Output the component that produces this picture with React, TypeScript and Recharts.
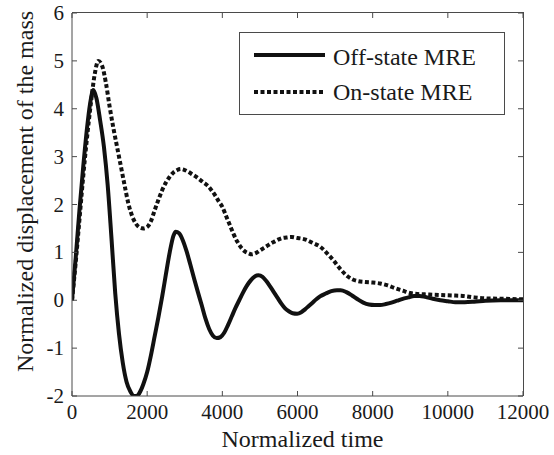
import { Label, Legend, Line, LineChart, XAxis, YAxis } from 'recharts'

const TIME_TICKS = [0, 2000, 4000, 6000, 8000, 10000, 12000]
const VALUE_TICKS = [-2, -1, 0, 1, 2, 3, 4, 5, 6]

// Off-state MRE (solid)
const OFF_TIME = [
  0, 100, 200, 300, 400, 480, 567, 650, 750, 850, 950, 1050, 1150, 1250, 1350, 1450, 1550, 1650, 1720,
  1800, 1900, 2000, 2100, 2200, 2300, 2400, 2500, 2600, 2700, 2760, 2850, 2950, 3050, 3150, 3250, 3350,
  3450, 3550, 3650, 3750, 3850, 3950, 4050, 4150, 4250, 4350, 4450, 4550, 4650, 4750, 4850, 4960, 5070,
  5170, 5270, 5370, 5470, 5570, 5670, 5770, 5870, 5990, 6100, 6200, 6300, 6400, 6500, 6600, 6750, 6900,
  7050, 7150, 7300, 7450, 7600, 7750, 7900, 8050, 8200, 8350, 8500, 8650, 8800, 8950, 9100, 9250, 9400,
  9600, 9800, 10000, 10200, 10450, 10700, 11000, 11400, 12000,
]
const OFF_VALUE = [
  0, 0.9, 1.9, 2.8, 3.6, 4.1, 4.39, 4.22, 3.75, 3.2, 2.4, 1.3, 0.15, -0.7, -1.3, -1.7, -1.9, -2.0, -2.0,
  -1.93, -1.75, -1.5, -1.15, -0.75, -0.35, 0.08, 0.55, 1.0, 1.35, 1.43, 1.4, 1.25, 1.02, 0.74, 0.45, 0.17,
  -0.1, -0.38, -0.6, -0.74, -0.79, -0.77, -0.68, -0.52, -0.34, -0.16, 0.0, 0.16, 0.3, 0.41, 0.49, 0.52, 0.49,
  0.4, 0.29, 0.17, 0.05, -0.07, -0.17, -0.23, -0.27, -0.28, -0.25, -0.19, -0.12, -0.05, 0.02, 0.08, 0.14, 0.19,
  0.21, 0.21, 0.17, 0.1, 0.02, -0.05, -0.09, -0.1, -0.1, -0.08, -0.05, -0.01, 0.03, 0.06, 0.09, 0.09, 0.07,
  0.03, 0.0, -0.02, -0.04, -0.04, -0.03, -0.01, 0.0, 0.0,
]

// On-state MRE (dashed)
const ON_TIME = [
  0, 100, 200, 300, 400, 500, 600, 700, 800, 900, 1000, 1100, 1200, 1300, 1400, 1500, 1600, 1700, 1800,
  1900, 2000, 2100, 2200, 2300, 2400, 2500, 2600, 2700, 2800, 2900, 3000, 3100, 3200, 3300, 3400, 3500,
  3600, 3700, 3800, 3900, 4000, 4100, 4200, 4300, 4400, 4500, 4600, 4700, 4780, 4900, 5000, 5100, 5200,
  5300, 5400, 5500, 5600, 5700, 5840, 6000, 6100, 6240, 6400, 6600, 6800, 6950, 7130, 7300, 7450, 7600,
  7800, 8000, 8200, 8400, 8600, 8800, 9000, 9200, 9500, 9800, 10100, 10400, 10700, 11000, 11500, 12000,
]
const ON_VALUE = [
  0, 0.8, 1.7, 2.6, 3.4, 4.1, 4.7, 5.0, 4.9, 4.55, 4.05, 3.6, 3.2, 2.8, 2.4, 2.02, 1.76, 1.6, 1.52,
  1.5, 1.53, 1.65, 1.88, 2.1, 2.3, 2.46, 2.58, 2.67, 2.72, 2.74, 2.72, 2.68, 2.63, 2.58, 2.52, 2.46,
  2.4, 2.31, 2.2, 2.07, 1.95, 1.76, 1.57, 1.38, 1.22, 1.1, 1.02, 0.98, 0.96, 0.99, 1.04, 1.09, 1.14,
  1.19, 1.23, 1.27, 1.3, 1.31, 1.32, 1.3, 1.29, 1.26, 1.2, 1.12, 0.97, 0.84, 0.66, 0.52, 0.44, 0.4,
  0.38, 0.37, 0.35, 0.31, 0.25, 0.2, 0.15, 0.13, 0.12, 0.11, 0.1, 0.09, 0.06, 0.04, 0.03, 0.02,
]

const SERIES = [
  { name: 'Off-state MRE', time: OFF_TIME, value: OFF_VALUE, dash: undefined },
  { name: 'On-state MRE', time: ON_TIME, value: ON_VALUE, dash: '4 2.5' },
]

const FONT = '"Liberation Serif", "Times New Roman", serif'
const INK = '#1a1a1a'
const FRAME = '#4a4a4a'
const TICK_LEN = 5

const BottomTick = ({ x, y, payload }: any) => (
  <g>
    <line x1={x} x2={x} y1={y} y2={y - TICK_LEN} stroke={FRAME} />
    <text x={x} y={y + 23} textAnchor="middle" fontSize={21} fontFamily={FONT} fill={INK}>
      {payload.value}
    </text>
  </g>
)

const TopTick = ({ x, y }: any) => <line x1={x} x2={x} y1={y} y2={y + TICK_LEN} stroke={FRAME} />

const LeftTick = ({ x, y, payload }: any) => (
  <g>
    <line x1={x} x2={x + TICK_LEN} y1={y} y2={y} stroke={FRAME} />
    <text x={x - 8} y={y + 7} textAnchor="end" fontSize={21} fontFamily={FONT} fill={INK}>
      {payload.value}
    </text>
  </g>
)

const RightTick = ({ x, y }: any) => <line x1={x - TICK_LEN} x2={x} y1={y} y2={y} stroke={FRAME} />

const renderLegend = () => (
  <svg width={266} height={83} style={{ display: 'block' }}>
    <rect x={0.5} y={0.5} width={265} height={82} fill="#fff" stroke={FRAME} />
    {SERIES.map((s, i) => (
      <g key={s.name}>
        <line x1={15} x2={86} y1={23 + i * 37} y2={23 + i * 37} stroke="#111" strokeWidth={4} strokeDasharray={s.dash} />
        <text x={94} y={33 + i * 35} fontSize={24} fontFamily={FONT} fill={INK}>
          {s.name}
        </text>
      </g>
    ))}
  </svg>
)

const toRows = (time: number[], value: number[]) => time.map((t, i) => ({ t, v: value[i] }))

export default function App() {
  return (
    <div style={{ position: 'absolute', left: 0, top: 0, width: 554, height: 455, background: '#fff' }}>
      <LineChart width={554} height={455} margin={{ top: 12, right: 30, bottom: 0, left: 0 }}>
        <XAxis
          xAxisId="bottom"
          dataKey="t"
          type="number"
          domain={[0, 12000]}
          ticks={TIME_TICKS}
          interval={0}
          allowDataOverflow
          height={59}
          tickSize={0}
          tickMargin={0}
          tickLine={false}
          axisLine={{ stroke: FRAME }}
          tick={<BottomTick />}
        >
          <Label
            content={({ viewBox }: any) => (
              <text
                x={viewBox.x + viewBox.width / 2 + 5}
                y={viewBox.y + 51}
                textAnchor="middle"
                fontSize={24}
                fontFamily={FONT}
                fill={INK}
              >
                Normalized time
              </text>
            )}
          />
        </XAxis>
        <XAxis
          xAxisId="top"
          dataKey="t"
          orientation="top"
          type="number"
          domain={[0, 12000]}
          ticks={TIME_TICKS}
          interval={0}
          allowDataOverflow
          height={1}
          tickSize={0}
          tickMargin={0}
          tickLine={false}
          axisLine={false}
          tick={<TopTick />}
        />
        <YAxis
          yAxisId="left"
          type="number"
          domain={[-2, 6]}
          ticks={VALUE_TICKS}
          interval={0}
          allowDataOverflow
          width={72}
          tickSize={0}
          tickMargin={0}
          tickLine={false}
          axisLine={{ stroke: FRAME }}
          tick={<LeftTick />}
        >
          <Label
            content={({ viewBox }: any) => {
              const cx = 33
              const cy = viewBox.y + viewBox.height / 2 - 13
              return (
                <text
                  x={cx}
                  y={cy}
                  transform={`rotate(-90 ${cx} ${cy})`}
                  textAnchor="middle"
                  fontSize={24}
                  fontFamily={FONT}
                  fill={INK}
                >
                  Normalized displacement of the mass
                </text>
              )
            }}
          />
        </YAxis>
        <YAxis
          yAxisId="right"
          orientation="right"
          type="number"
          domain={[-2, 6]}
          ticks={VALUE_TICKS}
          interval={0}
          allowDataOverflow
          width={1}
          tickSize={0}
          tickMargin={0}
          tickLine={false}
          axisLine={false}
          tick={<RightTick />}
        />
        <Legend
          layout="vertical"
          align="center"
          verticalAlign="middle"
          content={renderLegend}
          wrapperStyle={{ position: 'absolute', left: 239, top: 32, width: 266, height: 83 }}
        />
        {/* invisible copy so the mirrored top/right tick axes get a domain */}
        <Line
          data={toRows(OFF_TIME, OFF_VALUE)}
          dataKey="v"
          xAxisId="top"
          yAxisId="right"
          stroke="none"
          dot={false}
          activeDot={false}
          legendType="none"
          isAnimationActive={false}
        />
        {SERIES.map((s) => (
          <Line
            key={s.name}
            name={s.name}
            data={toRows(s.time, s.value)}
            dataKey="v"
            xAxisId="bottom"
            yAxisId="left"
            type="monotone"
            stroke="#111"
            strokeWidth={4}
            strokeDasharray={s.dash}
            dot={false}
            activeDot={false}
            isAnimationActive={false}
          />
        ))}
      </LineChart>
      {/* top and right edges of the plot box */}
      <div
        style={{
          position: 'absolute',
          left: 72,
          top: 12,
          width: 452,
          height: 384,
          boxSizing: 'border-box',
          borderTop: `1px solid ${FRAME}`,
          borderRight: `1px solid ${FRAME}`,
          pointerEvents: 'none',
        }}
      />
    </div>
  )
}
